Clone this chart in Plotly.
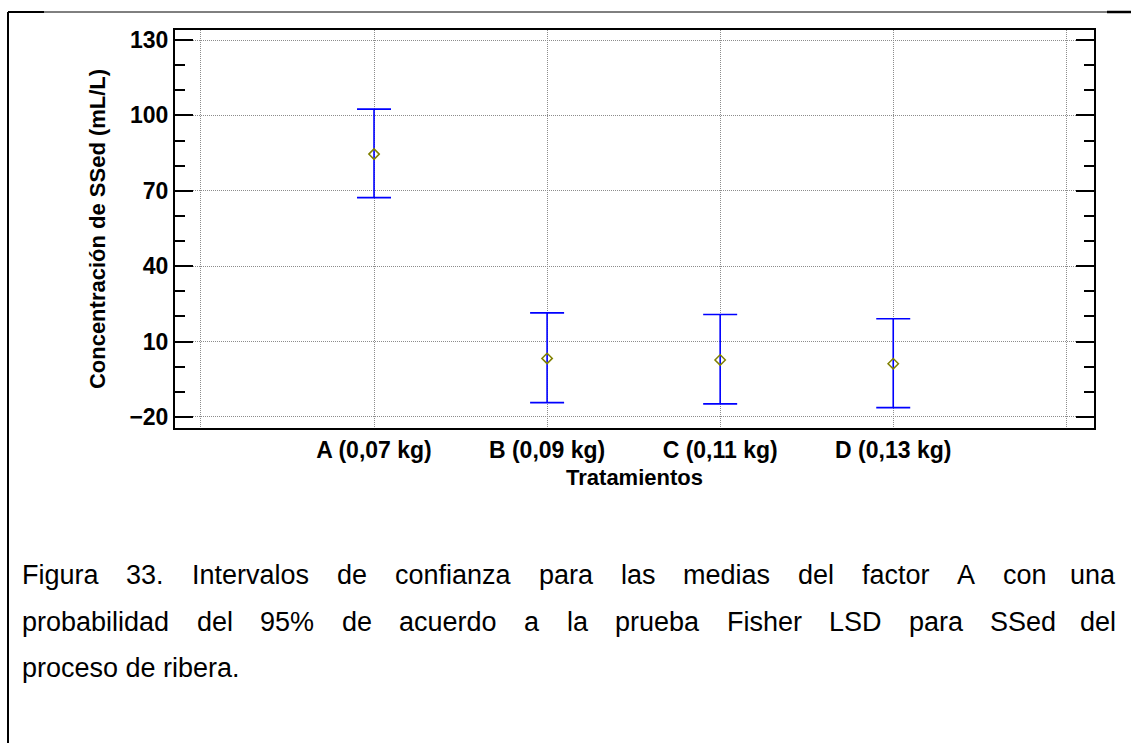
import plotly.graph_objects as go

# ---------------- data ----------------
categories = ["A (0,07 kg)", "B (0,09 kg)", "C (0,11 kg)", "D (0,13 kg)"]
cat_pos = [1, 2, 3, 4]
means = [84.6, 3.3, 2.7, 1.2]
upper = [102.5, 21.4, 20.8, 19.1]
lower = [67.3, -14.3, -14.8, -16.3]
grid_pos = [0, 1, 2, 3, 4, 5]
grid_text = [""] + categories + [""]
y_ticks = [-20, 10, 40, 70, 100, 130]

caption_lines = [
    "Figura 33. Intervalos de confianza para las medias del factor A con una",
    "probabilidad del 95% de acuerdo a la prueba Fisher LSD para SSed del",
    "proceso de ribera.",
]

# ---------------- layout constants (pixels) ----------------
W, H = 1131, 743
L, R, T, B = 175, 1094, 30, 428

def px(x):
    return (x - L) / (R - L)

def py(y):
    return (B - y) / (B - T)

fig = go.Figure()
fig.add_trace(go.Scatter(
    x=cat_pos, y=means, mode="markers",
    marker=dict(symbol="diamond-open", color="#808000", size=8,
                line=dict(width=1.5, color="#808000")),
    error_y=dict(type="data", symmetric=False,
                 array=[u - m for u, m in zip(upper, means)],
                 arrayminus=[m - l for m, l in zip(means, lower)],
                 color="#0000ff", thickness=1.6, width=17),
    showlegend=False, hoverinfo="skip",
))

fig.update_layout(
    width=W, height=H,
    margin=dict(l=L, r=W - R, t=T, b=H - B),
    paper_bgcolor="white", plot_bgcolor="white",
    font=dict(family="Arial, Liberation Sans", color="black"),
    xaxis=dict(
        range=[-0.15, 5.16], tickmode="array", tickvals=grid_pos, ticktext=grid_text,
        showgrid=True, gridcolor="#8c8c8c", griddash="1px,1px", gridwidth=1,
        showline=True, linecolor="black", linewidth=2, mirror=True,
        ticks="", zeroline=False,
        tickfont=dict(size=23, weight="bold"),
        title=dict(text="<b>Tratamientos</b>", font=dict(size=22), standoff=8),
    ),
    yaxis=dict(
        range=[-24.4, 134], tickmode="array", tickvals=y_ticks,
        showgrid=True, gridcolor="#8c8c8c", griddash="1px,1px", gridwidth=1,
        showline=True, linecolor="black", linewidth=2, mirror="allticks",
        ticks="inside", ticklen=18, tickwidth=2, tickcolor="black",
        minor=dict(dtick=10, tick0=0, ticks="inside", ticklen=10, tickwidth=2,
                   tickcolor="black", showgrid=False),
        zeroline=False,
        tickfont=dict(size=23, weight="bold"),
        title=dict(text="<b>Concentración de SSed (mL/L)</b>", font=dict(size=22), standoff=18),
    ),
)

# ---------------- outer frame ----------------
frame = [
    (8, 12, 8, H + 5, 2),
    (8, 12, 44, 12, 2),
    (44, 12, 1107, 12, 1),
    (1107, 12, W + 5, 12, 2.5),
]
for x0, y0, x1, y1, w in frame:
    fig.add_shape(type="line", xref="paper", yref="paper",
                  x0=px(x0), y0=py(y0), x1=px(x1), y1=py(y1),
                  line=dict(color="black", width=w))

# ---------------- justified caption ----------------
CW = {'F': 611, 'i': 222, 'g': 556, 'u': 556, 'r': 333, 'a': 556, '3': 556, '.': 278,
      'I': 278, 'n': 556, 't': 278, 'e': 556, 'v': 500, 'l': 222, 'o': 556, 's': 500,
      'd': 556, 'c': 500, 'f': 278, 'z': 500, 'p': 556, 'm': 833, 'A': 667, 'b': 556,
      '9': 556, '5': 556, '%': 889, 'k': 500, 'h': 556, 'L': 556, 'S': 667, 'D': 722}
FS = 27
LX0, LX1 = 20, 1118
line_y = [575, 622, 668]

def wwidth(w):
    return sum(CW.get(ch, 556) for ch in w) * FS / 1000.0

for i, (text, yline) in enumerate(zip(caption_lines, line_y)):
    if i == len(caption_lines) - 1:
        fig.add_annotation(text=text, xref="paper", yref="paper", x=px(LX0), y=py(yline),
                           xanchor="left", yanchor="middle", showarrow=False,
                           font=dict(size=FS, color="black"))
        continue
    words = text.split(" ")
    total = sum(wwidth(w) for w in words)
    gap = (LX1 - LX0 - total) / (len(words) - 1)
    xcur = LX0
    for j, w in enumerate(words):
        if j == len(words) - 1:
            fig.add_annotation(text=w, xref="paper", yref="paper", x=px(LX1), y=py(yline),
                               xanchor="right", yanchor="middle", showarrow=False,
                               font=dict(size=FS, color="black"))
        else:
            fig.add_annotation(text=w, xref="paper", yref="paper", x=px(xcur), y=py(yline),
                               xanchor="left", yanchor="middle", showarrow=False,
                               font=dict(size=FS, color="black"))
        xcur += wwidth(w) + gap

fig.write_html("out.html")
